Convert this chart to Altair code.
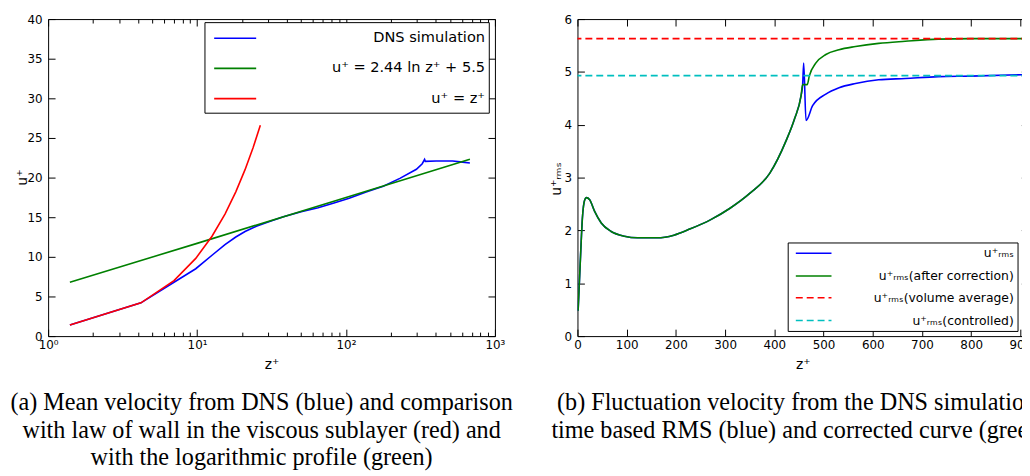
import altair as alt
import pandas as pd

# ---------------- panel (a): mean velocity ----------------
dns_z = [1.4, 4.2, 7.0, 9.8, 12.6, 15.4, 18.2, 21.0, 25, 30, 38, 50, 65, 83, 105, 138,
         178, 230, 297, 325, 337, 341, 403, 520, 607, 679]
dns_u = [1.4, 4.2, 6.8, 8.5, 10.2, 11.55, 12.5, 13.2, 13.85, 14.4, 15.05, 15.7, 16.2, 16.8,
         17.4, 18.2, 18.9, 19.9, 21.05, 21.75, 22.3, 22.05, 22.1, 22.1, 21.95, 21.85]
log_z = [1.4, 10, 100, 679]
log_u = [6.8, 11.7, 17.5, 22.3]
visc_z = [1.4, 4.2, 7.0, 9.8, 12.6, 15.4, 18.2, 21.0, 23.8, 26.6]
visc_u = [1.4, 4.2, 7.0, 9.8, 12.6, 15.4, 18.2, 21.0, 23.8, 26.6]

a_y_ticks = [0, 5, 10, 15, 20, 25, 30, 35, 40]
a_x_ticks = [1, 10, 100, 1000]
a_x_tick_labels = ["10⁰", "10¹", "10²", "10³"]
a_x_minor = [2, 3, 4, 5, 6, 7, 8, 9, 20, 30, 40, 50, 60, 70, 80, 90,
             200, 300, 400, 500, 600, 700, 800, 900]
a_legend_labels = ["DNS simulation", "u⁺ = 2.44 ln z⁺ + 5.5", "u⁺ = z⁺"]
caption_a = ["(a) Mean velocity from DNS (blue) and comparison",
             "with law of wall in the viscous sublayer (red) and",
             "with the logarithmic profile (green)"]

# ---------------- panel (b): fluctuation velocity ----------------
rms_z = [1.3, 6.7, 10, 14.8, 18, 24.8, 34.9, 48.3, 68.5, 95.3, 122, 162, 196, 229.5, 270,
         310, 350, 390.6, 424, 441, 454.4, 457.6, 459.7, 464.4, 477.8, 504.7, 531.5, 565,
         612, 666, 733, 800, 915]
rms_u = [0.48, 1.61, 2.23, 2.58, 2.62, 2.58, 2.36, 2.14, 1.98, 1.89, 1.86, 1.86, 1.91, 2.03,
         2.20, 2.42, 2.70, 3.08, 3.70, 4.11, 4.55, 4.76, 5.17, 4.08, 4.36, 4.58, 4.70, 4.78,
         4.85, 4.875, 4.91, 4.92, 4.95]
corr_z = [1.3, 6.7, 10, 14.8, 18, 24.8, 34.9, 48.3, 68.5, 95.3, 122, 162, 196, 229.5, 270,
          310, 350, 390.6, 424, 441, 454.4, 457.6, 462, 467, 471, 484.6, 504.7, 531.5, 565,
          612, 666, 733, 800, 915]
corr_u = [0.48, 1.61, 2.23, 2.58, 2.62, 2.58, 2.36, 2.14, 1.98, 1.89, 1.86, 1.86, 1.91, 2.03,
          2.20, 2.42, 2.70, 3.08, 3.70, 4.11, 4.55, 4.76, 4.76, 4.76, 4.92, 5.17, 5.33, 5.42,
          5.48, 5.54, 5.58, 5.62, 5.63, 5.63]
vol_avg = [5.63]
controlled = [4.93]

b_x_ticks = [0, 100, 200, 300, 400, 500, 600, 700, 800, 900]
b_y_ticks = [0, 1, 2, 3, 4, 5, 6]
b_legend_labels = ["u⁺ᵣₘₛ", "u⁺ᵣₘₛ(after correction)", "u⁺ᵣₘₛ(volume average)",
                   "u⁺ᵣₘₛ(controlled)"]
caption_b = ["(b) Fluctuation velocity from the DNS simulation:",
             "time based RMS (blue) and corrected curve (green)"]

# ---------------- styling ----------------
FONT = "DejaVu Sans"
SERIF = "Liberation Serif"
MAJOR = 7
MINOR = 4
H = 320
W_A = 451
W_B = 455
LW = 1.6
CAP_SIZE = 24.4
CAP_LH = 28
CAP_OFFSET = 20


def main_axis(orient, values, title, **kw):
    return alt.Axis(orient=orient, values=values, title=title, ticks=False, domain=False,
                    grid=False, labelFont=FONT, labelFontSize=12, labelColor="black",
                    labelFlush=False, labelOverlap=False, titleFont=FONT, titleFontSize=14,
                    titleFontWeight="normal", titleColor="black", minExtent=0, **kw)


def tick_axis(orient, values, size):
    return alt.Axis(orient=orient, values=values, title=None, labels=False, domain=False,
                    grid=False, ticks=True, tickSize=size, offset=-size, tickColor="black",
                    tickWidth=1, minExtent=0)


def line(df, color, xs, ys, xaxis=None, yaxis=None, interp="linear"):
    return alt.Chart(df).mark_line(color=color, strokeWidth=LW, clip=True,
                                   interpolate=interp).encode(
        x=alt.X("z:Q", scale=xs, axis=xaxis), y=alt.Y("u:Q", scale=ys, axis=yaxis))


def ghost(df, xs, ys, xaxis, yaxis):
    return alt.Chart(df).mark_line(strokeOpacity=0).encode(
        x=alt.X("z:Q", scale=xs, axis=xaxis), y=alt.Y("u:Q", scale=ys, axis=yaxis))


one = pd.DataFrame({"k": [0]})


def legend(x0, x1, y0, y1, lx0, lx1, tx, rows_y, labels, colors, dashes, size):
    out = [alt.Chart(one).mark_rect(fill="white", stroke="black", strokeWidth=1).encode(
        x=alt.value(x0), x2=alt.value(x1), y=alt.value(y0), y2=alt.value(y1))]
    for yy, lab, col, d in zip(rows_y, labels, colors, dashes):
        kw = {"strokeDash": d} if d else {}
        out.append(alt.Chart(one).mark_rule(color=col, strokeWidth=LW, **kw).encode(
            x=alt.value(lx0), x2=alt.value(lx1), y=alt.value(yy)))
        out.append(alt.Chart(one).mark_text(align="right", baseline="middle", font=FONT,
                                            fontSize=size, color="black").encode(
            x=alt.value(tx), y=alt.value(yy), text=alt.value(lab)))
    return out


# ---------------- panel (a) ----------------
xA = alt.Scale(type="log", domain=[1, 1000])
yA = alt.Scale(domain=[0, 40])
dfA_dns = pd.DataFrame({"z": dns_z, "u": dns_u})
dfA_log = pd.DataFrame({"z": log_z, "u": log_u})
dfA_visc = pd.DataFrame({"z": visc_z, "u": visc_u})

log_label_expr = " : ".join(
    f"datum.value == {v} ? '{l}'" for v, l in zip(a_x_ticks, a_x_tick_labels)) + " : ''"

layers_a = [
    line(dfA_dns, "#0000ff", xA, yA,
         xaxis=main_axis("bottom", a_x_ticks, "z⁺", labelExpr=log_label_expr,
                         labelPadding=3.5, titlePadding=7),
         yaxis=main_axis("left", a_y_ticks, "u⁺", labelPadding=6, titleX=-25.5, titleY=159.5,
                         titleAngle=270, titleBaseline="middle", titleAlign="center")),
    line(dfA_log, "#008000", xA, yA),
    line(dfA_visc, "#ff0000", xA, yA),
    ghost(dfA_dns, xA, yA, tick_axis("bottom", a_x_ticks, MAJOR), tick_axis("left", a_y_ticks, MAJOR)),
    ghost(dfA_dns, xA, yA, tick_axis("top", a_x_ticks, MAJOR), tick_axis("right", a_y_ticks, MAJOR)),
    ghost(dfA_dns, xA, yA, tick_axis("bottom", a_x_minor, MINOR), None),
    ghost(dfA_dns, xA, yA, tick_axis("top", a_x_minor, MINOR), None),
]
layers_a += legend(158.3, 445.3, 3.6, 95, 167.6, 210, 441, [19.3, 49.8, 80.3],
                   a_legend_labels, ["#0000ff", "#008000", "#ff0000"], [None, None, None], 14.7)

panel_a = alt.layer(*layers_a).resolve_axis(x="independent", y="independent").properties(
    width=W_A, height=H,
    title=alt.TitleParams(text=caption_a, orient="bottom", anchor="start", align="center",
                          frame="group", dx=215.5, offset=CAP_OFFSET, font=SERIF,
                          fontSize=CAP_SIZE, fontWeight="normal", lineHeight=CAP_LH,
                          color="black"))

# ---------------- panel (b) ----------------
xB = alt.Scale(domain=[0, 916], nice=False)
yB = alt.Scale(domain=[0, 6])
dfB_rms = pd.DataFrame({"z": rms_z, "u": rms_u})
dfB_corr = pd.DataFrame({"z": corr_z, "u": corr_u})
dfB_vol = pd.DataFrame({"u": vol_avg})
dfB_ctl = pd.DataFrame({"u": controlled})

layers_b = [
    line(dfB_rms, "#0000ff", xB, yB,
         xaxis=main_axis("bottom", b_x_ticks, "z⁺", labelPadding=3.5, titlePadding=7),
         yaxis=main_axis("left", b_y_ticks, "u⁺ᵣₘₛ", labelPadding=6, titleX=-21.3, titleY=161,
                         titleAngle=270, titleBaseline="middle", titleAlign="center"),
         interp="monotone"),
    line(dfB_corr, "#008000", xB, yB, interp="monotone"),
    alt.Chart(dfB_vol).mark_rule(color="#ff0000", strokeWidth=LW, strokeDash=[7, 4]).encode(
        y=alt.Y("u:Q", scale=yB, axis=None)),
    alt.Chart(dfB_ctl).mark_rule(color="#00bfbf", strokeWidth=LW, strokeDash=[7, 4]).encode(
        y=alt.Y("u:Q", scale=yB, axis=None)),
    ghost(dfB_rms, xB, yB, tick_axis("bottom", b_x_ticks, MAJOR), tick_axis("left", b_y_ticks, MAJOR)),
    ghost(dfB_rms, xB, yB, tick_axis("top", b_x_ticks, MAJOR), tick_axis("right", b_y_ticks, MAJOR)),
]
layers_b += legend(212.7, 444.7, 226, 315.3, 220.4, 256.4, 440.4, [236.3, 259.3, 281.3, 304.3],
                   b_legend_labels, ["#0000ff", "#008000", "#ff0000", "#00bfbf"],
                   [None, None, [7, 4], [7, 4]], 12.5)

panel_b = alt.layer(*layers_b).resolve_axis(x="independent", y="independent").properties(
    width=W_B, height=H,
    title=alt.TitleParams(text=caption_b, orient="bottom", anchor="start", align="center",
                          frame="group", dx=224.5, offset=CAP_OFFSET, font=SERIF,
                          fontSize=CAP_SIZE, fontWeight="normal", lineHeight=CAP_LH,
                          color="black"))

chart = alt.hconcat(panel_a, panel_b, spacing=83.3, bounds="flush").configure_view(
    stroke="black", strokeWidth=1).properties(
    padding={"left": 1.5, "top": 2, "right": -28, "bottom": -0.5}, background="white")

chart.save("out.html", embed_options={"renderer": "svg", "actions": False})
